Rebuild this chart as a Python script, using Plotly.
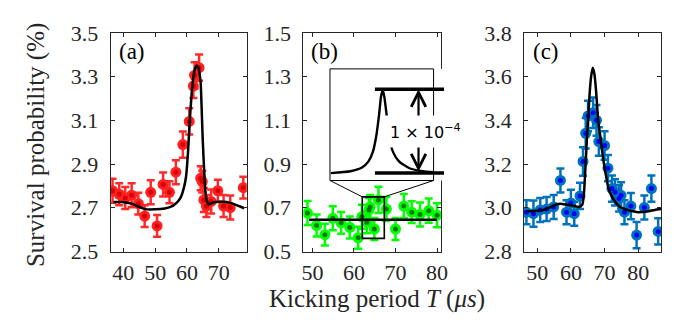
import plotly.graph_objects as go

# ---------------- data ----------------
# (a) red
a_T = [36.6, 38.7, 40.6, 42.6, 44.7, 46.7, 48.6, 50.6, 52.5, 54.5, 56.5, 58.7, 60.7,
       62.0, 62.4, 63.8, 64.3, 64.8, 65.3, 66.1, 67.6, 69.7, 71.5, 73.6, 77.7]
a_P = [2.778, 2.762, 2.745, 2.757, 2.719, 2.662, 2.771, 2.617, 2.807, 2.771, 2.863, 2.989, 3.095,
       3.257, 3.306, 3.341, 2.835, 2.820, 2.736, 2.708, 2.729, 2.778, 2.708, 2.701, 2.792]
a_err = [0.055, 0.050, 0.050, 0.055, 0.050, 0.050, 0.055, 0.050, 0.055, 0.050, 0.055, 0.060, 0.060,
         0.055, 0.060, 0.060, 0.055, 0.050, 0.055, 0.050, 0.055, 0.050, 0.050, 0.055, 0.050]
fa_T = [36.9, 39.5, 42.6, 44.8, 46.8, 50.0, 53.0, 55.0, 56.1, 57.2, 58.1, 59.0, 59.7, 60.3, 60.8,
        61.4, 62.1, 62.6, 63.1, 63.6, 64.0, 64.3, 64.6, 64.9, 65.2, 65.5, 65.8, 66.2, 66.9, 68.4,
        70.5, 72.5, 74.6, 76.5, 78.0]
fa_P = [2.727, 2.726, 2.719, 2.705, 2.694, 2.693, 2.697, 2.705, 2.715, 2.730, 2.750, 2.790, 2.842,
        2.950, 3.080, 3.210, 3.306, 3.340, 3.351, 3.340, 3.310, 3.270, 3.160, 3.030, 2.930, 2.840,
        2.775, 2.735, 2.715, 2.725, 2.728, 2.727, 2.718, 2.707, 2.698]

# (b) green
b_T = [48.8, 51.0, 53.0, 54.9, 56.9, 59.0, 61.0, 61.9, 63.1, 63.6, 63.9, 64.9, 65.9, 67.8,
       70.0, 72.0, 73.9, 75.9, 78.0, 80.0]
b_P = [0.676, 0.619, 0.577, 0.652, 0.631, 0.610, 0.563, 0.659, 0.634, 0.690, 0.704, 0.603,
       0.736, 0.694, 0.603, 0.708, 0.680, 0.669, 0.687, 0.666]
b_err = [0.055, 0.050, 0.050, 0.055, 0.050, 0.050, 0.050, 0.055, 0.050, 0.055, 0.055, 0.050,
         0.060, 0.055, 0.050, 0.055, 0.050, 0.055, 0.055, 0.055]
fb_T = [49.2, 80.0]
fb_P = [0.645, 0.645]

# (c) blue
c_T = [46.8, 48.9, 50.9, 52.8, 54.9, 56.9, 58.7, 60.0, 61.0, 62.7, 63.6, 64.4, 65.1, 66.6,
       67.6, 68.3, 70.0, 71.0, 72.2, 73.1, 74.3, 74.9, 75.9, 77.8, 79.5, 81.8, 83.9, 85.9]
c_P = [2.980, 2.973, 2.990, 2.994, 3.004, 3.125, 2.980, 3.022, 2.973, 3.054, 3.212, 3.341, 3.420,
       3.435, 3.400, 3.303, 3.285, 3.181, 3.088, 3.071, 3.043, 3.057, 2.980, 3.008, 2.875, 3.001,
       3.088, 2.892]
c_err = [0.055, 0.060, 0.055, 0.055, 0.055, 0.055, 0.055, 0.060, 0.055, 0.060, 0.065, 0.070, 0.070,
         0.070, 0.070, 0.065, 0.065, 0.060, 0.060, 0.060, 0.060, 0.060, 0.055, 0.060, 0.060, 0.055,
         0.060, 0.060]
fc_T = [46.8, 49.0, 51.7, 53.5, 55.6, 57.0, 58.5, 60.5, 62.4, 63.4, 63.9, 64.3, 64.7, 65.1, 65.6,
        66.0, 66.5, 67.0, 67.5, 68.1, 68.75, 69.7, 70.5, 71.2, 72.2, 73.1, 74.5, 76.1, 78.0, 80.0,
        82.5, 84.9, 86.8]
fc_P = [2.984, 2.985, 2.990, 3.000, 3.015, 3.018, 3.015, 3.010, 3.004, 3.015, 3.070, 3.180, 3.300,
        3.400, 3.530, 3.600, 3.641, 3.610, 3.530, 3.400, 3.324, 3.212, 3.140, 3.086, 3.050, 3.029,
        3.005, 2.994, 2.985, 2.980, 2.983, 2.990, 2.994]

# inset (zoom of the fit in panel b), height in units of 1e-4
ins_T = [62.04, 63.04, 63.64, 63.97, 64.19, 64.36, 64.51, 64.61, 64.70, 64.78, 64.90, 65.03,
         65.23, 65.53, 66.07, 66.75, 67.30]
ins_P = [0.0, 0.022, 0.066, 0.14, 0.25, 0.43, 0.69, 0.91, 0.99, 0.91, 0.69, 0.43, 0.25, 0.14,
         0.058, 0.022, 0.011]
zoom_T = [62.0, 67.3]      # zoom window in panel (b)
zoom_P = [0.56, 0.75]
level_T = [64.3, 67.85]    # extent of the peak / baseline guide bars
level_P = [0.0, 1.0]
arrow_T = 66.53
label_T = 66.9

x_ticks_a = [40, 50, 60, 70]
x_ticks_b = [50, 60, 70, 80]
x_ticks_c = [50, 60, 70, 80]
y_ticks_a = [2.5, 2.7, 2.9, 3.1, 3.3, 3.5]
y_ticks_b = [0.5, 0.7, 0.9, 1.1, 1.3, 1.5]
y_ticks_c = [2.8, 3.0, 3.2, 3.4, 3.6, 3.8]

# ---------------- layout geometry (pixels) ----------------
W, H = 674, 322
TOP, BOT = 14, 251
PANELS = {"a": (102, 240), "b": (297.3, 437), "c": (521, 660)}
X_RANGES = {"a": [36, 78.8], "b": [47.8, 81.0], "c": [46.1, 86.8]}
Y_RANGES = {"a": [2.5, 3.5], "b": [0.5, 1.5], "c": [2.8, 3.8]}
INSET_L, INSET_R, INSET_T, INSET_B = 324.3, 429.3, 53, 174
INSET_EXT_R = 440
INSET_BASE_PX, INSET_PEAK_PX = 166, 75


def fx(px):
    return px / W


def fy(py):
    return 1 - py / H


def data2px(panel, t, p):
    x0, x1 = PANELS[panel]
    r = X_RANGES[panel]
    yr = Y_RANGES[panel]
    return (x0 + (t - r[0]) / (r[1] - r[0]) * (x1 - x0),
            BOT - (p - yr[0]) / (yr[1] - yr[0]) * (BOT - TOP))


INK = "#262626"
SERIF = "Liberation Serif"
TICKFONT = dict(family=SERIF, size=22, color=INK)

fig = go.Figure()


def add_panel(xa, ya, T, P, err, fT, fP, outer, inner, errc):
    fig.add_trace(go.Scatter(
        x=T, y=P, mode="markers", xaxis=xa, yaxis=ya, showlegend=False,
        error_y=dict(type="data", array=err, color=errc, thickness=2.5, width=4),
        marker=dict(size=11, color=outer, line=dict(width=0))))
    fig.add_trace(go.Scatter(
        x=T, y=P, mode="markers", xaxis=xa, yaxis=ya, showlegend=False,
        marker=dict(size=5, color=inner, line=dict(width=0))))
    fig.add_trace(go.Scatter(
        x=fT, y=fP, mode="lines", xaxis=xa, yaxis=ya, showlegend=False,
        line=dict(color="black", width=2.5, shape="spline", smoothing=0.5)))


add_panel("x", "y", a_T, a_P, a_err, fa_T, fa_P, "#ff2020", "#d80000", "#ff2a2a")
add_panel("x2", "y2", b_T, b_P, b_err, fb_T, fb_P, "#00ff00", "#007a00", "#00ff00")
add_panel("x3", "y3", c_T, c_P, c_err, fc_T, fc_P, "#0072bd", "#0000ff", "#0072bd")

# inset traces
fig.add_trace(go.Scatter(x=ins_T, y=ins_P, mode="lines", xaxis="x4", yaxis="y4",
                         showlegend=False,
                         line=dict(color="black", width=2.4, shape="spline", smoothing=0.6)))
for lv in level_P:
    fig.add_trace(go.Scatter(x=level_T, y=[lv, lv], mode="lines", xaxis="x4", yaxis="y4",
                             showlegend=False, line=dict(color="black", width=3.5)))


def axis(panel, ticks, yaxis=False):
    d = dict(ticks="inside", ticklen=4, tickwidth=1, tickcolor=INK, showline=True,
             linecolor=INK, linewidth=1, mirror="ticks", showgrid=False, zeroline=False,
             tickmode="array", tickvals=ticks, tickfont=TICKFONT)
    if yaxis:
        d.update(range=Y_RANGES[panel], domain=[fy(BOT), fy(TOP)], tickformat=".1f",
                 ticklabelstandoff=7)
    else:
        x0, x1 = PANELS[panel]
        d.update(range=X_RANGES[panel], domain=[fx(x0), fx(x1)], ticklabelstandoff=1)
    return d


ins_scale = (INSET_R - INSET_L) / (zoom_T[1] - zoom_T[0])
ins_yscale = INSET_BASE_PX - INSET_PEAK_PX

fig.update_layout(
    width=W, height=H, margin=dict(l=0, r=0, t=0, b=0),
    paper_bgcolor="white", plot_bgcolor="white",
    font=dict(family=SERIF, size=22, color=INK),
    showlegend=False,
    xaxis=dict(axis("a", x_ticks_a), anchor="y"),
    yaxis=dict(axis("a", y_ticks_a, True), anchor="x"),
    xaxis2=dict(axis("b", x_ticks_b), anchor="y2"),
    yaxis2=dict(axis("b", y_ticks_b, True), anchor="x2"),
    xaxis3=dict(axis("c", x_ticks_c), anchor="y3"),
    yaxis3=dict(axis("c", y_ticks_c, True), anchor="x3"),
    xaxis4=dict(visible=False, anchor="y4", domain=[fx(INSET_L), fx(INSET_EXT_R)],
                range=[zoom_T[0], zoom_T[0] + (INSET_EXT_R - INSET_L) / ins_scale]),
    yaxis4=dict(visible=False, anchor="x4", domain=[fy(INSET_B), fy(INSET_T)],
                range=[(INSET_BASE_PX - INSET_B) / ins_yscale,
                       (INSET_BASE_PX - INSET_T) / ins_yscale]),
)

# zoom window box and inset frame / connectors
bx0, by0 = data2px("b", zoom_T[0], zoom_P[1])
bx1, _ = data2px("b", zoom_T[1], zoom_P[1])
fig.add_shape(type="rect", xref="x2", yref="y2", x0=zoom_T[0], x1=zoom_T[1],
              y0=zoom_P[0], y1=zoom_P[1], line=dict(color="black", width=1.6), layer="above")
fig.add_shape(type="rect", xref="paper", yref="paper", x0=fx(INSET_L), x1=fx(INSET_R),
              y0=fy(INSET_B), y1=fy(INSET_T), line=dict(color="black", width=1), layer="above")
fig.add_shape(type="line", xref="paper", yref="paper", x0=fx(INSET_L), y0=fy(INSET_B),
              x1=fx(bx0), y1=fy(by0), line=dict(color="black", width=1), layer="above")
fig.add_shape(type="line", xref="paper", yref="paper", x0=fx(INSET_R), y0=fy(INSET_B),
              x1=fx(bx1), y1=fy(by0), line=dict(color="black", width=1), layer="above")

# double arrow and label
fig.add_annotation(xref="x4", yref="y4", x=arrow_T, y=level_P[1], ax=arrow_T, ay=level_P[0],
                   axref="x4", ayref="y4", text="", showarrow=True, arrowhead=5,
                   startarrowhead=5, arrowside="end+start", arrowsize=1.3,
                   startarrowsize=1.3, arrowwidth=2.2, arrowcolor="black", standoff=0,
                   startstandoff=0)
fig.add_annotation(xref="x4", yref="y4", x=label_T, y=0.5, text="1 × 10<sup>−4</sup>",
                   showarrow=False, bgcolor="white", borderpad=5,
                   font=dict(family="DejaVu Sans", size=16, color="black"))

# panel labels
for lab, px in (("(a)", 108), ("(b)", 303), ("(c)", 528)):
    fig.add_annotation(xref="paper", yref="paper", x=fx(px), y=fy(34), text=lab,
                       showarrow=False, xanchor="left", yanchor="middle",
                       font=dict(family=SERIF, size=23, color="black"))

# axis titles
fig.add_annotation(xref="paper", yref="paper", x=fx(372), y=fy(302),
                   text="Kicking period <i>T</i> (<i>μs</i>)", showarrow=False,
                   xanchor="center", yanchor="middle",
                   font=dict(family=SERIF, size=25, color=INK))
fig.add_annotation(xref="paper", yref="paper", x=fx(27), y=fy(136),
                   text="Survival probability (%)", showarrow=False, textangle=-90,
                   xanchor="center", yanchor="middle",
                   font=dict(family=SERIF, size=25, color=INK))

fig.write_html("out.html")
